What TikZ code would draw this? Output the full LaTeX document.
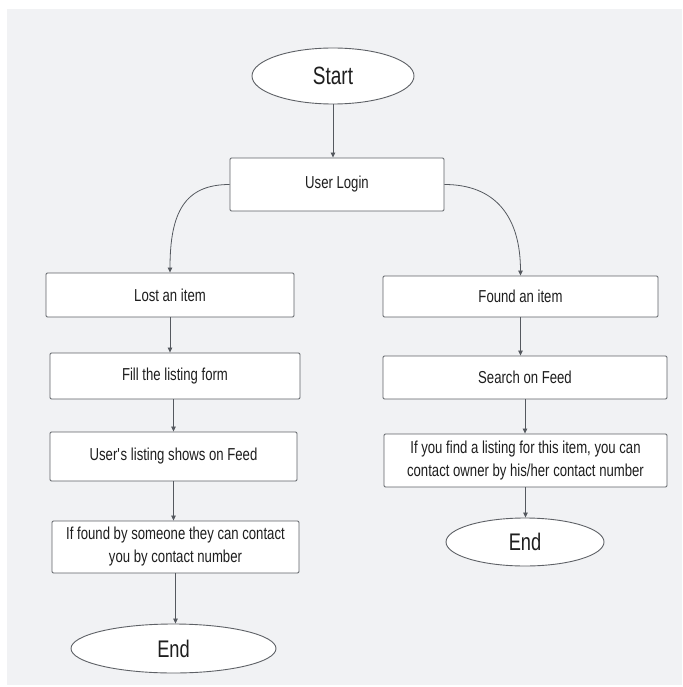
\documentclass[tikz,border=0pt]{standalone}
\usepackage{fontspec}
\setmainfont[FakeStretch=0.76]{Liberation Sans}
\usetikzlibrary{shapes.geometric,arrows.meta,calc}
\definecolor{bgcol}{HTML}{F1F2F4}
\definecolor{boxline}{HTML}{5E6166}
\definecolor{linecol}{HTML}{55595F}
\definecolor{txtcol}{HTML}{1E1E1E}
\begin{document}
\begin{tikzpicture}[x=1pt,y=-1pt,
  box/.style={draw=boxline, fill=white, rounded corners=1.2pt, line width=0.9pt,
    inner sep=0pt, align=center, text=txtcol, font=\fontsize{17.3}{23}\selectfont},
  term/.style={ellipse, draw=boxline, fill=white, line width=0.9pt, inner sep=0pt,
    text=txtcol, font=\fontsize{25}{28}\selectfont},
  conn/.style={draw=linecol, line width=0.8pt, -{Triangle[length=5pt,width=4.5pt]}}]
\useasboundingbox (0,0) rectangle (682,687);
\fill[white] (0,0) rectangle (682,687);
\fill[bgcol] (7,9) rectangle (682,685);

\node[term, minimum width=162pt, minimum height=56pt] (start) at (333,76) {Start};
\node[box, minimum width=214pt, minimum height=53pt] (login) at (337,184.5) {User Login};

\node[box, minimum width=248pt, minimum height=44pt] (lost) at (170,295) {Lost an item};
\node[box, minimum width=250pt, minimum height=46pt] (fill) at (175,376) {Fill the listing form};
\node[box, minimum width=247pt, minimum height=49pt] (users) at (173.5,456.5) {User\textquotesingle s listing shows on Feed};
\node[box, minimum width=247pt, minimum height=52pt] (iffound) at (175.5,547) {If found by someone they can contact\\you by contact number};
\node[term, minimum width=205pt, minimum height=49pt, font=\fontsize{24}{27}\selectfont] (endl) at (173.5,648.5) {End};

\node[box, minimum width=275pt, minimum height=41pt] (found) at (520.5,296.5) {Found an item};
\node[box, minimum width=284pt, minimum height=43pt] (search) at (525,377.5) {Search on Feed};
\node[box, minimum width=283pt, minimum height=53pt] (ifyou) at (525.5,460.5) {If you find a listing for this item, you can\\contact owner by his/her contact number};
\node[term, minimum width=158pt, minimum height=48pt, font=\fontsize{24}{27}\selectfont] (endr) at (525,542) {End};

\draw[conn] (start.south) -- (start.south |- login.north);
\draw[conn] (login.west) .. controls +(-45,0) and +(0,-60) .. (lost.north);
\draw[conn] (login.east) .. controls +(50,0) and +(0,-60) .. (found.north);

\draw[conn] (lost.south) -- (lost.south |- fill.north);
\draw[conn] (users.north |- fill.south) -- (users.north);
\draw[conn] (users.south) -- (users.south |- iffound.north);
\draw[conn] (iffound.south) -- (iffound.south |- endl.north);

\draw[conn] (found.south) -- (found.south |- search.north);
\draw[conn] (search.south) -- (search.south |- ifyou.north);
\draw[conn] (ifyou.south) -- (ifyou.south |- endr.north);
\end{tikzpicture}
\end{document}
